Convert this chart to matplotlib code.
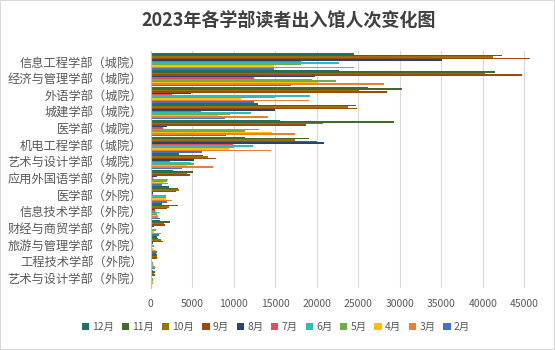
import numpy as np
import matplotlib
matplotlib.use("Agg")
import matplotlib.pyplot as plt
from matplotlib.patches import Rectangle

plt.rcParams['font.family'] = ['Noto Sans CJK SC', 'DejaVu Sans']

departments = ["信息工程学部（城院）", "经济与管理学部（城院）", "外语学部（城院）", "城建学部（城院）",
               "医学部（城院）", "机电工程学部（城院）", "艺术与设计学部（城院）", "应用外国语学部（外院）",
               "医学部（外院）", "信息技术学部（外院）", "财经与商贸学部（外院）", "旅游与管理学部（外院）",
               "工程技术学部（外院）", "艺术与设计学部（外院）"]

months = ["12月", "11月", "10月", "9月", "8月", "7月", "6月", "5月", "4月", "3月", "2月"]

# one list per month, in the order of departments
m12 = [24500, 22700, 26200, 12900, 15600, 11400, 3400, 2700, 2200, 1400, 1100, 760, 600, 240]
m11 = [42300, 41500, 30300, 24700, 29300, 19100, 6300, 5100, 3300, 3300, 2300, 880, 720, 480]
m10 = [41200, 40300, 25100, 23800, 20800, 17400, 6900, 4400, 3400, 2200, 1600, 1240, 720, 360]
m9 = [45700, 44700, 28500, 24900, 18700, 20000, 7900, 4700, 3050, 1970, 1730, 1490, 720, 480]
m8 = [35100, 19800, 4900, 15000, 2000, 20900, 5200, 760, 280, 520, 400, 240, 160, 120]
m7 = [18100, 12500, 2600, 6100, 1500, 9900, 2300, 280, 280, 520, 120, 120, 120, 120]
m6 = [22700, 19400, 19200, 12100, 13100, 12300, 4900, 2100, 1850, 1000, 640, 360, 240, 240]
m5 = [18100, 22300, 15000, 9600, 11300, 10000, 5200, 1970, 1850, 760, 640, 120, 240, 240]
m4 = [14900, 20200, 10900, 8100, 14600, 9400, 4400, 1600, 1850, 880, 400, 300, 360, 240]
m3 = [24500, 28100, 19100, 14100, 17400, 14500, 7500, 2100, 2570, 880, 1240, 520, 480, 240]
m2 = [14900, 16900, 12500, 9000, 9100, 6200, 3800, 1370, 1970, 1120, 1000, 760, 480, 120]

series = [m12, m11, m10, m9, m8, m7, m6, m5, m4, m3, m2]
colors = ["#1e7066", "#43682b", "#997300", "#9e480e", "#264478", "#e84a5f",
          "#2ebdb0", "#70ad47", "#ffc000", "#ed7d31", "#4472c4"]

fig = plt.figure(figsize=(5.55, 3.5), dpi=100)
ax = fig.add_axes([150.7 / 555, 0.178, 1 - 150.7 / 555, 0.675])

y = np.arange(len(departments))
n = len(series)
h = 0.97 / n
for i, vals in enumerate(series):
    ax.barh(y - 0.485 + h * (i + 0.5), vals, height=h, color=colors[i], label=months[i])

ax.set_ylim(13.6, -0.6)
ax.set_xlim(0, 48700)
ax.set_xticks(np.arange(0, 45001, 5000))
ax.set_yticks(y)
ax.set_yticklabels(departments, fontsize=8.8, color="#595959")
ax.tick_params(axis='x', labelsize=7.5, labelcolor="#595959", length=0, pad=8)
ax.tick_params(axis='y', length=0, pad=6)
ax.grid(axis='x', color="#d9d9d9", linewidth=0.8)
ax.set_axisbelow(True)
for s in ["top", "right", "bottom"]:
    ax.spines[s].set_visible(False)
ax.spines["left"].set_color("#bfbfbf")

fig.suptitle("2023年各学部读者出入馆人次变化图", x=0.52, y=0.968, fontsize=13,
             fontweight='bold', color="#404040")

fig.legend(loc='center', bbox_to_anchor=(0.497, 0.066), ncol=11, frameon=False,
           fontsize=7.5, handlelength=0.7, handleheight=0.7, handletextpad=0.3,
           columnspacing=0.75, labelcolor="#595959")

fig.patches.append(Rectangle((0, 0), 1, 1, transform=fig.transFigure, fill=False,
                             edgecolor="#d9d9d9", linewidth=1.5))

fig.savefig("out.png", dpi=100)
